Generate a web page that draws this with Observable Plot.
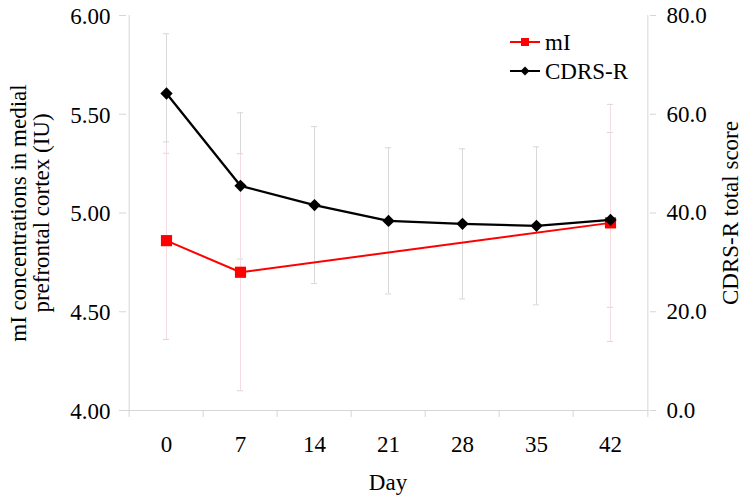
<!DOCTYPE html>
<html><head><meta charset="utf-8">
<script src="https://cdn.jsdelivr.net/npm/d3@7"></script>
<script src="https://cdn.jsdelivr.net/npm/@observablehq/plot@0.6"></script>
<style>body{margin:0;background:#fff}#chart{position:relative;width:743px;height:501px}
#chart svg text{font-size:23px;font-family:"Liberation Serif","Times New Roman",serif}</style>
</head><body><div id="chart"></div>
<script>
const days = ["0","7","14","21","28","35","42"];
const miDays = ["0","7","42"];
const miMean = [4.86, 4.70, 4.95];
const miSd = [0.50, 0.60, 0.60];
const cdrsMean = [64.2, 45.5, 41.6, 38.4, 37.8, 37.4, 38.6];
const cdrsSd = [12.1, 14.8, 15.9, 14.8, 15.2, 16.0, 17.7];
const leftTicks = [4.0, 4.5, 5.0, 5.5, 6.0];
const rightTicks = [0, 20, 40, 60, 80];

const W = 743, H = 501, ML = 126, MR = 94, MT = 15, MB = 91;
const toLeft = v => 4 + v / 40; // right axis 0..80 maps to left 4..6
const bw = (W - ML - MR) / days.length;
const font = "Liberation Serif, Times New Roman, serif";

const mi = miDays.map((d, i) => ({day: d, y: miMean[i], lo: miMean[i] - miSd[i], hi: miMean[i] + miSd[i]}));
const cd = days.map((d, i) => ({day: d, y: toLeft(cdrsMean[i]), lo: toLeft(cdrsMean[i] - cdrsSd[i]), hi: toLeft(cdrsMean[i] + cdrsSd[i])}));
const capInset = bw / 2 - 3.5;
const axisColor = "#d6d6d6";

const plot = Plot.plot({
  width: W, height: H,
  marginLeft: ML, marginRight: MR, marginTop: MT, marginBottom: MB,
  style: {fontFamily: font, fontSize: "23px", color: "#000", background: "#fff"},
  x: {type: "band", domain: days, padding: 0},
  y: {domain: [4, 6]},
  marks: [
    Plot.axisY({anchor: "left", ticks: leftTicks, tickFormat: d3.format(".2f"), tickSize: 7, tickPadding: 9, stroke: axisColor, fill: "#000",
      label: "mI concentrations in medial\nprefrontal cortex (IU)", labelArrow: "none", labelAnchor: "center", labelOffset: 117, lineHeight: 1.15}),
    Plot.axisY({anchor: "right", ticks: rightTicks.map(toLeft), tickFormat: d => ((d - 4) * 40).toFixed(1), tickSize: 6, tickPadding: 11, stroke: axisColor, fill: "#000",
      label: "CDRS-R total score", labelArrow: "none", labelAnchor: "center", labelOffset: 88}),
    Plot.axisX({anchor: "bottom", tickSize: 0, tickPadding: 25, fill: "#000", label: "Day", labelArrow: "none", labelAnchor: "center", labelOffset: 79}),
    Plot.ruleY([4], {stroke: axisColor}),
    Plot.ruleX([days[0]], {x: d => d, dx: -bw / 2, stroke: axisColor}),
    Plot.ruleX([days[days.length - 1]], {x: d => d, dx: bw / 2, stroke: axisColor}),
    Plot.ruleX(days, {x: d => d, dx: -bw / 2, y1: 4, y2: 4, insetBottom: -7, stroke: axisColor}),
    Plot.ruleX([days[days.length - 1]], {x: d => d, dx: bw / 2, y1: 4, y2: 4, insetBottom: -7, stroke: axisColor}),
    // error bars
    Plot.ruleX(cd, {x: "day", y1: "lo", y2: "hi", stroke: "#d8d8d8", strokeWidth: 1}),
    Plot.tickY(cd, {x: "day", y: "lo", insetLeft: capInset, insetRight: capInset, stroke: "#d8d8d8"}),
    Plot.tickY(cd, {x: "day", y: "hi", insetLeft: capInset, insetRight: capInset, stroke: "#d8d8d8"}),
    Plot.ruleX(mi, {x: "day", y1: "lo", y2: "hi", stroke: "#f3dde2", strokeWidth: 1}),
    Plot.tickY(mi, {x: "day", y: "lo", insetLeft: capInset, insetRight: capInset, stroke: "#e4d0d4"}),
    Plot.tickY(mi, {x: "day", y: "hi", insetLeft: capInset, insetRight: capInset, stroke: "#e4d0d4"}),
    // lines
    Plot.line(mi, {x: "day", y: "y", stroke: "#ff0000", strokeWidth: 2}),
    Plot.dot(mi, {x: "day", y: "y", symbol: "square", r: 6.3, fill: "#ff0000", stroke: "none"}),
    Plot.line(cd, {x: "day", y: "y", stroke: "#000", strokeWidth: 2.3}),
    Plot.dot(cd, {x: "day", y: "y", symbol: "square", rotate: 45, r: 4.9, fill: "#000", stroke: "none"})
  ]
});
document.getElementById("chart").appendChild(plot);

// legend inside plot area
const svg = d3.select(plot);
const lg = svg.append("g").attr("font-family", font).attr("font-size", 23).attr("text-anchor", "start");
const items = [
  {name: "mI", color: "#ff0000", sym: d3.symbolSquare, size: 64, rot: 0, y: 42},
  {name: "CDRS-R", color: "#000", sym: d3.symbolSquare, size: 40, rot: 45, y: 71}
];
items.forEach(it => {
  lg.append("line").attr("x1", 510).attr("x2", 540).attr("y1", it.y).attr("y2", it.y).attr("stroke", it.color).attr("stroke-width", 2);
  lg.append("path").attr("d", d3.symbol(it.sym, it.size)()).attr("transform", `translate(525,${it.y}) rotate(${it.rot})`).attr("fill", it.color);
  lg.append("text").attr("x", 545).attr("y", it.y).attr("dy", "0.35em").attr("text-anchor", "start").attr("fill", "#000").text(it.name);
});
</script></body></html>
